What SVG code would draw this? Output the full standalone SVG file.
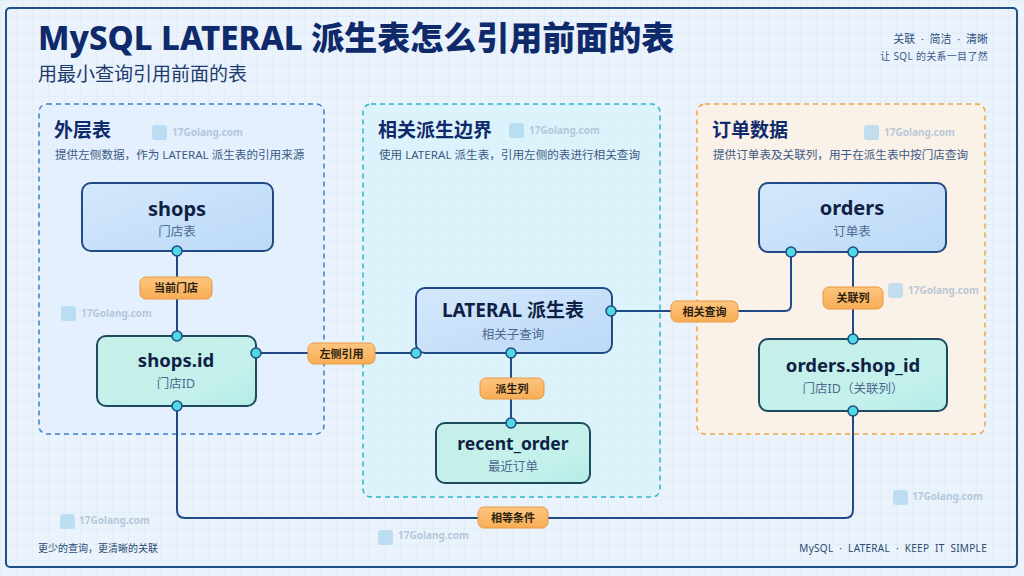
<svg xmlns="http://www.w3.org/2000/svg" width="1024" height="576" viewBox="0 0 1024 576">
<defs>
<pattern id="grid" width="16" height="16" patternUnits="userSpaceOnUse">
<path d="M16 0H0V16" fill="none" stroke="#c9def2" stroke-width="0.6" opacity="0.7"/>
</pattern>
<linearGradient id="gBlue" x1="0" y1="0" x2="1" y2="1">
<stop offset="0" stop-color="#d4e8fc"/><stop offset="1" stop-color="#bcd9f7"/>
</linearGradient>
<linearGradient id="gTeal" x1="0" y1="0" x2="1" y2="1">
<stop offset="0" stop-color="#c6efe8"/><stop offset="0.7" stop-color="#c4f1ec"/><stop offset="1" stop-color="#b3ebe6"/>
</linearGradient>
<linearGradient id="gPill" x1="0" y1="0" x2="0" y2="1">
<stop offset="0" stop-color="#fdc57f"/><stop offset="1" stop-color="#f8ad55"/>
</linearGradient>
<style>
text{font-family:"Noto Sans","Noto Sans CJK SC",sans-serif}
.title{font-size:33px;font-weight:800;fill:#0f2a6b}
.sub{font-size:19px;fill:#1d3a6e}
.tr{font-size:11px;fill:#2f4f82;text-anchor:end}
.tr2{font-size:10px;fill:#3b5a88;text-anchor:end}
.ptitle{font-size:19px;font-weight:700;fill:#0f2a6b}
.pdesc{font-size:11.6px;fill:#3d5a85}
.nt{font-weight:700;fill:#0f1f45;text-anchor:middle}
.ns{font-size:12.5px;fill:#4d6990;text-anchor:middle}
.nb{fill:url(#gBlue);stroke:#1f4a86;stroke-width:2}
.ng{fill:url(#gTeal);stroke:#1d4a5e;stroke-width:2}
.pill{fill:url(#gPill);stroke:#e9983f;stroke-width:1}
.pt{font-size:11px;font-weight:700;fill:#2a2210;text-anchor:middle}
.ln{fill:none;stroke:#1f4a86;stroke-width:2}
.dot{fill:#4fd9e2;stroke:#1f4a86;stroke-width:1.5}
.wm{font-size:10px;font-weight:700;fill:#9fb7cf;opacity:0.7}
.wi{fill:#a9d4ee;opacity:0.7}
.foot{font-size:10px;fill:#2a4a72}
</style>
</defs>
<rect width="1024" height="576" fill="#eaf3fc"/>
<rect width="1024" height="576" fill="url(#grid)"/>
<rect x="6" y="8" width="1011" height="559" rx="4" fill="none" stroke="#1f4f86" stroke-width="2"/>

<text class="title" x="38" y="50">MySQL LATERAL 派生表怎么引用前面的表</text>
<text class="sub" x="38" y="81">用最小查询引用前面的表</text>
<text class="tr" x="988" y="43" xml:space="preserve">关联  ·  简洁  ·  清晰</text>
<text class="tr2" x="988" y="60" letter-spacing="0.3">让 SQL 的关系一目了然</text>

<g id="panel-left">
<rect x="39" y="104" width="285" height="330" rx="8" fill="#e2effc" fill-opacity="0.8" stroke="#3b7fd0" stroke-width="1.5" stroke-dasharray="5 4"/>
<text class="ptitle" x="54" y="137">外层表</text>
<text class="pdesc" x="55" y="159">提供左侧数据，作为 LATERAL 派生表的引用来源</text>
</g>
<g id="panel-mid">
<rect x="363" y="104" width="297" height="393" rx="8" fill="#dbf2fa" fill-opacity="0.85" stroke="#2cb6c6" stroke-width="1.5" stroke-dasharray="5 4"/>
<text class="ptitle" x="378" y="137">相关派生边界</text>
<text class="pdesc" x="379" y="159">使用 LATERAL 派生表，引用左侧的表进行相关查询</text>
</g>
<g id="panel-right">
<rect x="697" y="104" width="288" height="330" rx="8" fill="#fcf1e5" fill-opacity="0.9" stroke="#f0a244" stroke-width="1.5" stroke-dasharray="5 4"/>
<text class="ptitle" x="712" y="137">订单数据</text>
<text class="pdesc" x="713" y="159">提供订单表及关联列，用于在派生表中按门店查询</text>
</g>

<g id="watermarks">
<rect class="wi" x="152" y="125" width="15" height="15" rx="3"/><text class="wm" x="172" y="136">17Golang.com</text>
<rect class="wi" x="509" y="123" width="15" height="15" rx="3"/><text class="wm" x="529" y="134">17Golang.com</text>
<rect class="wi" x="864" y="125" width="15" height="15" rx="3"/><text class="wm" x="884" y="136">17Golang.com</text>
<rect class="wi" x="61" y="306" width="15" height="15" rx="3"/><text class="wm" x="81" y="317">17Golang.com</text>
<rect class="wi" x="888" y="283" width="15" height="15" rx="3"/><text class="wm" x="908" y="294">17Golang.com</text>
<rect class="wi" x="60" y="514" width="15" height="15" rx="3"/><text class="wm" x="79" y="524">17Golang.com</text>
<rect class="wi" x="378" y="530" width="15" height="15" rx="3"/><text class="wm" x="398" y="539">17Golang.com</text>
<rect class="wi" x="893" y="490" width="15" height="15" rx="3"/><text class="wm" x="912" y="500">17Golang.com</text>
</g>

<g id="connectors">
<path class="ln" d="M177 251V336"/>
<path class="ln" d="M256 353H416"/>
<path class="ln" d="M511 353V423"/>
<path class="ln" d="M611 311H785Q791 311 791 305V252"/>
<path class="ln" d="M853 252V339"/>
<path class="ln" d="M177 406V510Q177 518 185 518H845Q853 518 853 510V411"/>
<rect class="pill" x="140" y="277" width="72" height="22" rx="6"/><text class="pt" x="176" y="292">当前门店</text>
<rect class="pill" x="308" y="343" width="67" height="21" rx="6"/><text class="pt" x="341.5" y="357.5">左侧引用</text>
<rect class="pill" x="480" y="378" width="64" height="21" rx="6"/><text class="pt" x="512" y="392.5">派生列</text>
<rect class="pill" x="671" y="301" width="67" height="21" rx="6"/><text class="pt" x="704.5" y="315.5">相关查询</text>
<rect class="pill" x="823" y="287" width="60" height="22" rx="6"/><text class="pt" x="853" y="302">关联列</text>
<rect class="pill" x="478" y="507" width="70" height="21" rx="6"/><text class="pt" x="513" y="521.5">相等条件</text>
</g>

<g id="node-shops">
<rect class="nb" x="82" y="183" width="191" height="68" rx="9"/>
<text class="nt" x="177" y="216" font-size="20">shops</text>
<text class="ns" x="177" y="236">门店表</text>
</g>
<g id="node-shops-id">
<rect class="ng" x="97" y="336" width="159" height="70" rx="9"/>
<text class="nt" x="176" y="367" font-size="18.5">shops.id</text>
<text class="ns" x="176" y="388">门店ID</text>
</g>
<g id="node-lateral">
<rect class="nb" x="416" y="288" width="196" height="65" rx="9" stroke="#1f45a0"/>
<text class="nt" x="513" y="317" font-size="19">LATERAL 派生表</text>
<text class="ns" x="513" y="339">相关子查询</text>
</g>
<g id="node-recent-order">
<rect class="ng" x="436" y="423" width="154" height="60" rx="9"/>
<text class="nt" x="513" y="450" font-size="17.5">recent_order</text>
<text class="ns" x="513" y="471">最近订单</text>
</g>
<g id="node-orders">
<rect class="nb" x="759" y="183" width="187" height="69" rx="9"/>
<text class="nt" x="852" y="215" font-size="20">orders</text>
<text class="ns" x="852" y="236">订单表</text>
</g>
<g id="node-orders-shop-id">
<rect class="ng" x="759" y="339" width="188" height="72" rx="9"/>
<text class="nt" x="853" y="372" font-size="18.5">orders.shop_id</text>
<text class="ns" x="853" y="393">门店ID（关联列）</text>
</g>

<g id="ports">
<circle class="dot" cx="177" cy="251" r="5"/>
<circle class="dot" cx="177" cy="336" r="5"/>
<circle class="dot" cx="256" cy="353" r="5"/>
<circle class="dot" cx="177" cy="406" r="5"/>
<circle class="dot" cx="416" cy="353" r="5"/>
<circle class="dot" cx="511" cy="353" r="5"/>
<circle class="dot" cx="611" cy="311" r="5"/>
<circle class="dot" cx="511" cy="423" r="5"/>
<circle class="dot" cx="791" cy="252" r="5"/>
<circle class="dot" cx="853" cy="252" r="5"/>
<circle class="dot" cx="853" cy="339" r="5"/>
<circle class="dot" cx="853" cy="411" r="5"/>
</g>

<text class="foot" x="38" y="552">更少的查询，更清晰的关联</text>
<text class="foot" x="987" y="552" text-anchor="end" xml:space="preserve" letter-spacing="0.3">MySQL  ·  LATERAL  ·  KEEP  IT  SIMPLE</text>
</svg>
